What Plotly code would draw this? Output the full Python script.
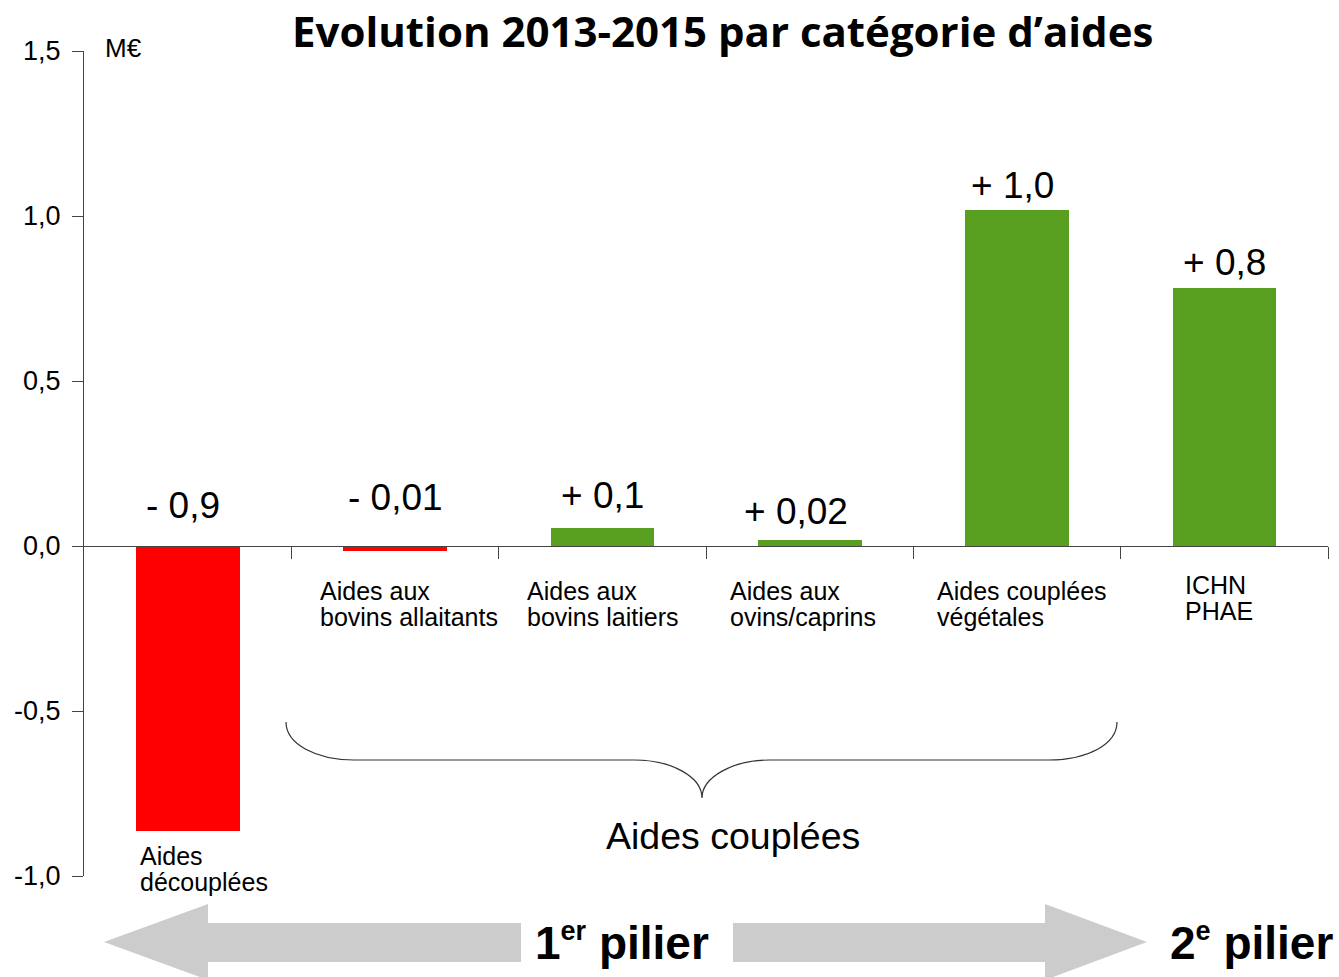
import plotly.graph_objects as go

# ---- data ----
categories = ["Aides<br>découplées", "Aides aux<br>bovins allaitants", "Aides aux<br>bovins laitiers",
              "Aides aux<br>ovins/caprins", "Aides couplées<br>végétales", "ICHN<br>PHAE"]
values = [-0.864, -0.016, 0.055, 0.018, 1.018, 0.782]
value_labels = ["- 0,9", "- 0,01", "+ 0,1", "+ 0,02", "+ 1,0", "+ 0,8"]
y_tickvals = [-1.0, -0.5, 0.0, 0.5, 1.0, 1.5]
y_ticktext = ["-1,0", "-0,5", "0,0", "0,5", "1,0", "1,5"]
title_text = "Evolution 2013-2015 par catégorie d\u2019aides"
group_label = "Aides couplées"

# ---- layout constants (pixels) ----
W, H = 1339, 977
L, R, T, B = 84, 11, 51, 101
PW, PH = W - L - R, H - T - B

def px(x):
    return (x - L) / PW

def py(y):
    return (H - B - y) / PH

RED = "#ff0000"
GREEN = "#589e1f"
FONT = "Liberation Sans, Arial, sans-serif"

xpos = [i + 0.5 for i in range(len(values))]
colors = [RED if v < 0 else GREEN for v in values]

fig = go.Figure()
fig.add_trace(go.Bar(x=xpos, y=values, width=0.5, marker=dict(color=colors, line=dict(width=0)),
                     hoverinfo="skip", showlegend=False))

annotations = []
# value labels: pixel offsets above bar top / zero line
label_shift = [41, 49, 32, 29, 25, 25]
label_xshift = [-5, 0, 0, -14, -5, 0]
for x, v, t, s, xs in zip(xpos, values, value_labels, label_shift, label_xshift):
    annotations.append(dict(x=x, y=max(v, 0), xref="x", yref="y", text=t, showarrow=False,
                            yanchor="middle", yshift=s, xshift=xs,
                            font=dict(family=FONT, size=37, color="#000")))

# category labels (lines placed separately for tight spacing)
cat_xshift = [-50, -77, -77, -82, -82, -41]
cat_ytop = [856, 591, 591, 591, 591, 585]
for x, lab, xs, yt in zip(xpos, categories, cat_xshift, cat_ytop):
    for j, line in enumerate(lab.split("<br>")):
        annotations.append(dict(x=x, y=py(yt + 26 * j), xref="x", yref="paper", text=line,
                                showarrow=False, xanchor="left", yanchor="middle", xshift=xs,
                                font=dict(family=FONT, size=25, color="#000")))

SUP = "<sup><span style='font-size:27px'>{}</span></sup>"
annotations += [
    dict(x=px(103), y=py(48), xref="paper", yref="paper", text="M€", showarrow=False,
         xanchor="left", yanchor="middle", font=dict(family=FONT, size=26, color="#000")),
    dict(x=px(722), y=py(30), xref="paper", yref="paper", text="<b>" + title_text + "</b>",
         showarrow=False, xanchor="center", yanchor="middle",
         font=dict(family="Open Sans, sans-serif", size=42, color="#000")),
    dict(x=px(733), y=py(836), xref="paper", yref="paper", text=group_label, showarrow=False,
         xanchor="center", yanchor="middle", font=dict(family=FONT, size=37.5, color="#000")),
    dict(x=px(533), y=py(942), xref="paper", yref="paper",
         text="<b>1" + SUP.format("er") + " pilier</b>",
         showarrow=False, xanchor="left", yanchor="middle",
         font=dict(family=FONT, size=46, color="#000")),
    dict(x=px(1168), y=py(942), xref="paper", yref="paper",
         text="<b>2" + SUP.format("e") + " pilier</b>",
         showarrow=False, xanchor="left", yanchor="middle",
         font=dict(family=FONT, size=46, color="#000")),
]

def P(x, y):
    return f"{px(x):.5f},{py(y):.5f}"

brace = (f"M {P(286,722)} C {P(286,744)} {P(316,760)} {P(354,760)} L {P(634,760)} "
         f"C {P(672,760)} {P(702,777)} {P(702,798)} C {P(702,777)} {P(733,760)} {P(770,760)} "
         f"L {P(1049,760)} C {P(1088,760)} {P(1117,744)} {P(1117,722)}")

left_arrow = (f"M {P(104,942)} L {P(208,904)} L {P(208,923)} L {P(521,923)} L {P(521,962)} "
              f"L {P(208,962)} L {P(208,980)} Z")
right_arrow = (f"M {P(1147,942)} L {P(1045,904)} L {P(1045,923)} L {P(733,923)} L {P(733,962)} "
               f"L {P(1045,962)} L {P(1045,980)} Z")

shapes = [
    dict(type="path", path=brace, xref="paper", yref="paper", line=dict(color="#333", width=1.2)),
    dict(type="path", path=left_arrow, xref="paper", yref="paper", fillcolor="#cccccc",
         line=dict(width=0)),
    dict(type="path", path=right_arrow, xref="paper", yref="paper", fillcolor="#cccccc",
         line=dict(width=0)),
]

fig.update_layout(
    width=W, height=H,
    margin=dict(l=L, r=R, t=T, b=B, pad=0),
    paper_bgcolor="white", plot_bgcolor="white",
    annotations=annotations, shapes=shapes,
    bargap=0,
    xaxis=dict(range=[0, 6], tickvals=[1, 2, 3, 4, 5, 6], showticklabels=False,
               ticks="outside", ticklen=12, tickcolor="#444", tickwidth=1.2,
               showline=True, linecolor="#444", linewidth=1.2, showgrid=False, zeroline=False,
               anchor="free", position=py(546)),
    yaxis=dict(range=[-1, 1.5], tickvals=y_tickvals, ticktext=y_ticktext,
               ticks="outside", ticklen=11, tickcolor="#444", tickwidth=1.2,
               showline=True, linecolor="#444", linewidth=1.2, showgrid=False, zeroline=False,
               tickfont=dict(family=FONT, size=27, color="#000"), ticklabelstandoff=6),
)

fig.write_html("out.html", config={"displayModeBar": False},
               post_script="document.body.style.margin='0';document.body.style.overflow='hidden';")
